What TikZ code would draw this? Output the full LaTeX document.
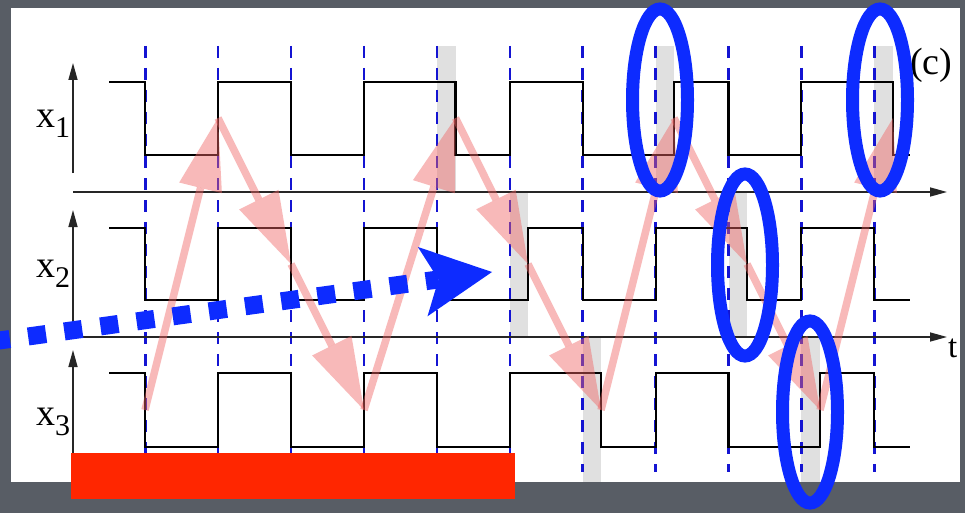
\documentclass[tikz,border=0pt]{standalone}
\usepackage{fontspec}
\setmainfont{Liberation Serif}
\usetikzlibrary{arrows.meta,shapes.geometric}
\definecolor{bgcol}{RGB}{88,93,101}
\definecolor{barcol}{RGB}{224,224,224}
\definecolor{dashblue}{RGB}{20,20,210}
\definecolor{pinkc}{RGB}{240,100,100}
\definecolor{annblue}{RGB}{13,43,255}
\definecolor{redbar}{RGB}{255,38,0}
\begin{document}
\begin{tikzpicture}[x=1pt,y=-1pt,
  sig/.style={line width=2.3pt, black, line join=miter},
  axisline/.style={line width=1.5pt, black!85, -{Triangle[length=17pt,width=9pt]}},
  gridline/.style={dashblue, line width=2.5pt, dash pattern=on 12pt off 10pt},
  delaybar/.style={fill=barcol, draw=none},
  pk/.style={draw=pinkc, line width=7.5pt, opacity=0.45, -{Triangle[length=72pt,width=44pt,line width=0pt]}},
  dotarrow/.style={annblue, line width=18pt, dash pattern=on 18pt off 18.5pt, -{Stealth[length=70pt,width=70pt,inset=16pt,line width=0pt]}},
  hl/.style={ellipse, draw=annblue, line width=13pt, inner sep=0pt, minimum width=55pt, minimum height=182pt},
  lbl/.style={inner sep=0pt, anchor=base west, font=\fontsize{38}{38}\selectfont}
]
\clip (0,0) rectangle (965,513);
\fill[bgcol] (0,0) rectangle (965,513);
\fill[white] (11,8) rectangle (960,482);
% delay bars
\fill[delaybar] (437,46) rectangle (455.5,192);
\fill[delaybar] (656,46) rectangle (674,192);
\fill[delaybar] (874,46) rectangle (893,192);
\fill[delaybar] (510,192) rectangle (528,337);
\fill[delaybar] (728.5,192) rectangle (747,337);
\fill[delaybar] (583,337) rectangle (601,482);
\fill[delaybar] (801,337) rectangle (820,482);
% grid
\foreach \k in {0,...,10} \draw[gridline] ({145.3+72.9*\k},46) -- ({145.3+72.9*\k},472);
% axes
\coordinate (o1) at (73,192); \coordinate (e1a) at (947,192);
\coordinate (o2) at (73,337); \coordinate (e2a) at (947,337);
\coordinate (v1a) at (73,173); \coordinate (v1b) at (73,63);
\coordinate (v2b) at (73,210);
\coordinate (v3a) at (73,455); \coordinate (v3b) at (73,350);
\draw[axisline] (o1) -- (e1a);
\draw[axisline] (o2) -- (e2a);
\draw[axisline] (v1a) -- (v1b);
\draw[axisline] (o2) -- (v2b);
\draw[axisline] (v3a) -- (v3b);
% signals
\draw[sig] (109,82)--(145,82)--(145,155)--(218,155)--(218,82)--(291,82)--(291,155)--(364,155)--(364,82)--(455.5,82)--(455.5,155)--(510,155)--(510,82)--(583,82)--(583,155)--(674,155)--(674,82)--(728.5,82)--(728.5,155)--(801,155)--(801,82)--(893,82)--(893,155)--(910,155);
\draw[sig] (109,228)--(145,228)--(145,300)--(218,300)--(218,228)--(291,228)--(291,300)--(364,300)--(364,228)--(437,228)--(437,300)--(528,300)--(528,228)--(583,228)--(583,300)--(656,300)--(656,228)--(747,228)--(747,300)--(801,300)--(801,228)--(874,228)--(874,300)--(910,300);
\draw[sig] (109,373)--(145,373)--(145,447)--(218,447)--(218,373)--(291,373)--(291,447)--(364,447)--(364,373)--(437,373)--(437,447)--(510,447)--(510,373)--(601,373)--(601,447)--(656,447)--(656,373)--(728.5,373)--(728.5,447)--(820,447)--(820,373)--(874,373)--(874,447)--(910,447);
% pink propagation arrows
\coordinate (p0) at (145,410);
\coordinate (p1) at (218,118);
\coordinate (m1) at (291,264);
\coordinate (p2) at (364,410);
\coordinate (p3) at (455.5,118);
\coordinate (m2) at (528,264);
\coordinate (p4) at (601,410);
\coordinate (p5) at (674,118);
\coordinate (m3) at (747,264);
\coordinate (p6) at (820,410);
\coordinate (p7) at (893,118);
\draw[pk] (p0) -- (p1);
\draw[pk] (p1) -- (m1);
\draw[pk] (m1) -- (p2);
\draw[pk] (p2) -- (p3);
\draw[pk] (p3) -- (m2);
\draw[pk] (m2) -- (p4);
\draw[pk] (p4) -- (p5);
\draw[pk] (p5) -- (m3);
\draw[pk] (m3) -- (p6);
\draw[pk] (p6) -- (p7);
% labels
\node[lbl] (lx1) at (36,128) {x\raisebox{-10pt}{\fontsize{30}{30}\selectfont 1}};
\node[lbl] (lx2) at (36,277) {x\raisebox{-10pt}{\fontsize{30}{30}\selectfont 2}};
\node[lbl] (lx3) at (36,425) {x\raisebox{-10pt}{\fontsize{30}{30}\selectfont 3}};
\node[inner sep=0pt, anchor=base west, font=\fontsize{33}{33}\selectfont] (lt) at (948,357) {t};
\node[inner sep=0pt, anchor=base west, font=\fontsize{38}{38}\selectfont] (lc) at (910,75) {(c)};
% annotations
\fill[redbar] (71,453) rectangle (515,499);
\coordinate (ds) at (-8,341.5);
\coordinate (dt) at (492,272);
\draw[dotarrow] (ds) -- (dt);
\node[hl] (el1) at (660,100) {};
\node[hl] (el2) at (880,100) {};
\node[hl] (el3) at (745,265) {};
\node[hl] (el4) at (810,412) {};
\end{tikzpicture}
\end{document}
